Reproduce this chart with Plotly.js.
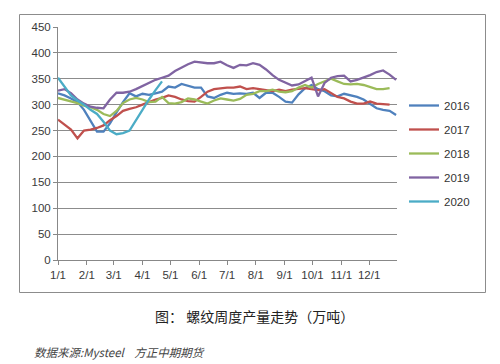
<!DOCTYPE html>
<html>
<head>
<meta charset="utf-8">
<script src="https://cdn.plot.ly/plotly-3.0.1.min.js"></script>
<style>html,body{margin:0;padding:0;background:#fff;}#chart{width:500px;height:364px;}</style>
</head>
<body>
<div id="chart"></div>
<script>
// Weekly rebar output (万吨), week 0 = first week of January
const years = ['2016', '2017', '2018', '2019', '2020'];
const v2016 = [322,318,312,305,290,268,248,248,264,285,305,322,316,321,319,322,325,335,333,340,336,333,333,316,313,319,323,321,322,321,323,313,323,323,315,306,304,320,332,338,330,326,318,316,321,318,315,310,302,293,290,288,280];
const v2017 = [271,262,252,235,250,252,255,260,270,278,288,292,295,300,305,310,313,318,315,310,307,306,315,325,330,332,333,333,335,330,332,330,328,326,329,326,329,330,332,330,328,330,322,315,312,306,302,302,306,302,301,300];
const v2018 = [313,310,307,303,298,295,290,282,278,288,303,310,313,310,305,306,315,303,302,305,312,310,306,302,308,312,310,308,311,319,321,326,326,329,325,324,326,333,338,333,340,345,350,345,340,339,340,338,334,330,330,332];
const v2019 = [327,330,322,310,302,296,294,293,310,323,323,325,330,336,343,348,352,356,365,372,378,383,381,380,380,383,376,371,377,376,380,377,368,357,348,343,337,339,345,352,316,342,352,355,356,345,348,352,357,363,366,358,348];
const v2020 = [352,335,318,308,300,290,282,267,250,243,245,250,270,292,310,328,345];
const seriesValues = [v2016, v2017, v2018, v2019, v2020];
const colors = ['#4F81BD', '#C0504D', '#9BBB59', '#8064A2', '#4BACC6'];
const tickVals = ['2020-01-01','2020-02-01','2020-03-01','2020-04-01','2020-05-01','2020-06-01','2020-07-01','2020-08-01','2020-09-01','2020-10-01','2020-11-01','2020-12-01'];
const tickText = ['1/1','2/1','3/1','4/1','5/1','6/1','7/1','8/1','9/1','10/1','11/1','12/1'];
const caption = '图： 螺纹周度产量走势（万吨）';
const source = '数据来源:Mysteel&nbsp;&nbsp;&nbsp;&nbsp;方正中期期货';

function weekDates(n) {
  const out = [];
  const start = Date.UTC(2020, 0, 1);
  for (let i = 0; i < n; i++) {
    const d = new Date(start + i * 7 * 86400000);
    out.push(d.toISOString().slice(0, 10));
  }
  return out;
}

const traces = seriesValues.map((vals, i) => ({
  type: 'scatter', mode: 'lines', name: years[i],
  x: weekDates(vals.length), y: vals,
  line: {color: colors[i], width: 2.3},
  legendgroup: 'g' + i
}));

// pixel helpers for paper coords (plot area: x 58..397, y 27..260)
const L = 58, R = 397, T = 27, B = 260;
const px = x => (x - L) / (R - L);
const py = y => (B - y) / (B - T);

const layout = {
  width: 500, height: 364,
  margin: {l: L, r: 500 - R, t: T, b: 364 - B, pad: 0},
  paper_bgcolor: '#fff', plot_bgcolor: '#fff',
  font: {family: 'Liberation Sans, Arial, sans-serif', size: 11, color: '#333'},
  showlegend: true,
  legend: {x: px(404), y: py(91), xanchor: 'left', yanchor: 'top',
    font: {size: 11.5, color: '#333'}, tracegroupgap: 5, traceorder: 'grouped',
    bgcolor: 'rgba(0,0,0,0)'},
  xaxis: {type: 'date', range: ['2020-01-01', '2020-12-31'],
    tickmode: 'array', tickvals: tickVals, ticktext: tickText,
    showgrid: false, zeroline: false, showline: true, linecolor: '#888', linewidth: 1,
    ticks: 'outside', ticklen: 4, tickcolor: '#888', tickfont: {size: 11.5, color: '#3a3a3a'}},
  yaxis: {range: [0, 450], dtick: 50, tick0: 0,
    showgrid: true, gridcolor: '#8c8c8c', gridwidth: 1, zeroline: false,
    showline: true, linecolor: '#888', linewidth: 1,
    ticks: 'outside', ticklen: 4, tickcolor: '#888', tickfont: {size: 11.5, color: '#3a3a3a'}},
  shapes: [{type: 'rect', xref: 'paper', yref: 'paper',
    x0: px(19.5), x1: px(485.5), y0: py(292.5), y1: py(14.5),
    line: {color: '#8c8c8c', width: 1}, fillcolor: 'rgba(0,0,0,0)', layer: 'below'}],
  annotations: [
    {xref: 'paper', yref: 'paper', x: px(254), y: py(316), xanchor: 'center', yanchor: 'middle',
     text: caption, showarrow: false,
     font: {family: 'Noto Sans CJK SC, sans-serif', size: 14, color: '#222'}},
    {xref: 'paper', yref: 'paper', x: px(32), y: py(352), xanchor: 'left', yanchor: 'middle',
     text: '<i>' + source + '</i>', showarrow: false,
     font: {family: 'Noto Sans CJK SC, Liberation Serif, serif', size: 11.5, color: '#444'}}
  ]
};

Plotly.newPlot('chart', traces, layout, {staticPlot: true, displayModeBar: false});
</script>
</body>
</html>
